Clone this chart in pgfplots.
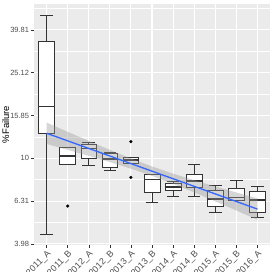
\documentclass[border=0pt]{standalone}
\usepackage{fontspec}
\setmainfont{Liberation Sans}
\usepackage{pgfplots}
\pgfplotsset{compat=1.18}
\usepgfplotslibrary{statistics}
\usetikzlibrary{calc}
\definecolor{panelbg}{HTML}{EBEBEB}
\definecolor{boxline}{HTML}{333333}
\definecolor{ticktxt}{HTML}{4D4D4D}
\definecolor{fitblue}{HTML}{3366FF}
\definecolor{bandgrey}{HTML}{999999}
\begin{document}
\begin{tikzpicture}
\begin{axis}[
  scale only axis, width=236pt, height=241pt,
  xmin=-0.6, xmax=10.6, ymin=0.595, ymax=1.721,
  axis background/.style={fill=panelbg},
  axis line style={draw=none},
  xtick={0,...,10},
  xticklabels={2011\_A,2011\_B,2012\_A,2012\_B,2013\_A,2013\_B,2014\_A,2014\_B,2015\_A,2015\_B,2016\_A},
  ytick={0.6,0.8,1.0,1.2,1.4,1.6},
  yticklabels={3.98,6.31,10,15.85,25.12,39.81},
  minor ytick={0.7,0.9,1.1,1.3,1.5,1.7},
  grid=both,
  major grid style={white, line width=1.1pt},
  minor grid style={white, line width=0.5pt},
  tick pos=left, tick align=outside,
  major tick length=2.75pt, minor tick length=0pt,
  tick style={boxline, line width=0.5pt},
  /pgf/number format/assume math mode=true,
  ticklabel style={font=\fontsize{7.5}{8}\selectfont, text=ticktxt},
  xticklabel style={rotate=45, anchor=north east, inner sep=1.5pt, font=\fontsize{9}{9}\selectfont},
  yticklabel style={inner sep=2pt},
  ylabel={\%Failure},
  ylabel style={at={(axis description cs:-0.12,0.5)}, anchor=center, font=\fontsize{9.5}{10}\selectfont},
  boxplot/draw direction=y,
  boxplot/box extend=0.75,
  boxplot/every median/.style={line width=1.5pt},
  clip=false,
]
\pgfplotsset{mybox/.style={draw=boxline, fill=white, line width=0.7pt, mark=none, boxplot/draw direction=y}}
\addplot[mybox, boxplot prepared={draw position=0, lower whisker=0.645, lower quartile=1.117, median=1.241, upper quartile=1.547, upper whisker=1.670}] coordinates {};
\addplot[mybox, boxplot prepared={draw position=1, lower whisker=0.973, lower quartile=0.973, median=1.011, upper quartile=1.051, upper whisker=1.051}] coordinates {};
\addplot[mybox, boxplot prepared={draw position=2, lower whisker=0.969, lower quartile=0.998, median=1.045, upper quartile=1.067, upper whisker=1.075}] coordinates {};
\addplot[mybox, boxplot prepared={draw position=3, lower whisker=0.945, lower quartile=0.959, median=0.997, upper quartile=1.023, upper whisker=1.028}] coordinates {};
\addplot[mybox, boxplot prepared={draw position=4, lower whisker=0.975, lower quartile=0.975, median=0.992, upper quartile=1.003, upper whisker=1.003}] coordinates {};
\addplot[mybox, boxplot prepared={draw position=5, lower whisker=0.794, lower quartile=0.841, median=0.902, upper quartile=0.925, upper whisker=0.925}] coordinates {};
\addplot[mybox, boxplot prepared={draw position=6, lower whisker=0.821, lower quartile=0.850, median=0.867, upper quartile=0.883, upper whisker=0.893}] coordinates {};
\addplot[mybox, boxplot prepared={draw position=7, lower whisker=0.821, lower quartile=0.864, median=0.895, upper quartile=0.925, upper whisker=0.973}] coordinates {};
\addplot[mybox, boxplot prepared={draw position=8, lower whisker=0.748, lower quartile=0.774, median=0.810, upper quartile=0.849, upper whisker=0.875}] coordinates {};
\addplot[mybox, boxplot prepared={draw position=9, lower whisker=0.804, lower quartile=0.804, median=0.818, upper quartile=0.860, upper whisker=0.895}] coordinates {};
\addplot[mybox, boxplot prepared={draw position=10, lower whisker=0.724, lower quartile=0.748, median=0.805, upper quartile=0.847, upper whisker=0.871}] coordinates {};
% outliers
\addplot[only marks, mark=*, mark size=1.4pt, black] coordinates {(1,0.777) (4,1.078) (4,0.911)};
% confidence band
\addplot[draw=none, fill=bandgrey, fill opacity=0.4] coordinates {
 (0,1.167) (1,1.1237) (2,1.0810) (3,1.0392) (4,0.9992) (5,0.962) (6,0.9284) (7,0.8976) (8,0.8686) (9,0.8405) (10,0.813)
 (10,0.713) (9,0.7563) (8,0.7990) (7,0.8408) (6,0.8808) (5,0.918) (4,0.9516) (3,0.9824) (2,1.0114) (1,1.0395) (0,1.067)
};
% fitted line
\addplot[fitblue, line width=1.3pt, mark=none] coordinates {
 (0,1.117) (1,1.0816) (2,1.0462) (3,1.0108) (4,0.9754) (5,0.940) (6,0.9046) (7,0.8692) (8,0.8338) (9,0.7984) (10,0.763)
};
\end{axis}
\pgfresetboundingbox
\path[use as bounding box] ($(current axis.south west)+(-34pt,-27pt)$) rectangle ($(current axis.north east)+(0pt,4pt)$);
\end{tikzpicture}
\end{document}
